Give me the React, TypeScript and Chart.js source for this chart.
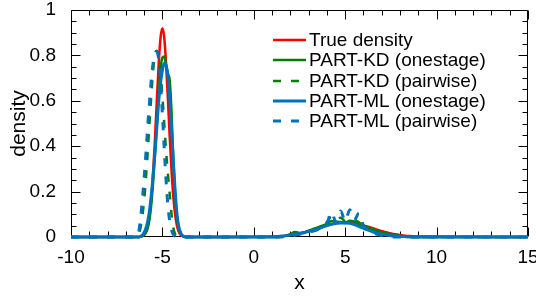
import { useEffect, useRef } from "react";
import { Chart, registerables } from "chart.js";

Chart.register(...registerables);

const FONT = "'Liberation Sans', Arial, sans-serif";

// x samples: narrow mode around -5 and broad mode around 5
const peakX = [-6.4, -6.3, -6.2, -6.1, -6.0, -5.9, -5.8, -5.7, -5.6, -5.5, -5.4, -5.3, -5.2, -5.1, -5.0, -4.9, -4.8, -4.7, -4.6, -4.5, -4.4, -4.3, -4.2, -4.1, -4.0, -3.9, -3.8, -3.7, -3.6];
const bumpX = [1, 1.25, 1.5, 1.75, 2, 2.25, 2.5, 2.75, 3, 3.25, 3.5, 3.75, 4, 4.25, 4.5, 4.75, 5, 5.25, 5.5, 5.75, 6, 6.25, 6.5, 6.75, 7, 7.25, 7.5, 7.75, 8, 8.25, 8.5, 8.75, 9];
const xRange = [-10, 15];

const trueDensityPeak = [0, 0, 0.001, 0.004, 0.009, 0.022, 0.049, 0.097, 0.176, 0.292, 0.442, 0.609, 0.765, 0.879, 0.92, 0.879, 0.765, 0.609, 0.442, 0.292, 0.176, 0.097, 0.049, 0.022, 0.009, 0.004, 0.001, 0, 0];
const trueDensityBump = [0.002, 0.003, 0.004, 0.006, 0.009, 0.012, 0.016, 0.021, 0.026, 0.032, 0.039, 0.045, 0.051, 0.057, 0.061, 0.063, 0.064, 0.063, 0.061, 0.057, 0.051, 0.045, 0.039, 0.032, 0.026, 0.021, 0.016, 0.012, 0.009, 0.006, 0.004, 0.003, 0.002];

const kdOnestagePeak = [0, 0, 0.002, 0.004, 0.01, 0.02, 0.04, 0.08, 0.15, 0.25, 0.37, 0.5, 0.63, 0.74, 0.79, 0.795, 0.76, 0.72, 0.69, 0.55, 0.34, 0.18, 0.08, 0.035, 0.015, 0.006, 0.002, 0, 0];
const kdOnestageBump = [0, 0, 0.002, 0.005, 0.012, 0.022, 0.018, 0.02, 0.028, 0.035, 0.042, 0.05, 0.058, 0.07, 0.068, 0.066, 0.062, 0.072, 0.068, 0.06, 0.05, 0.042, 0.035, 0.028, 0.02, 0.016, 0.012, 0.008, 0.005, 0.003, 0.001, 0, 0];

const kdPairwisePeak = [0, 0.01, 0.04, 0.09, 0.16, 0.26, 0.38, 0.51, 0.63, 0.74, 0.81, 0.82, 0.79, 0.72, 0.62, 0.5, 0.38, 0.28, 0.19, 0.1, 0.04, 0.012, 0.003, 0, 0, 0, 0, 0, 0];
const kdPairwiseBump = [0, 0, 0.001, 0.004, 0.01, 0.02, 0.015, 0.018, 0.025, 0.032, 0.04, 0.05, 0.065, 0.09, 0.075, 0.085, 0.07, 0.08, 0.075, 0.065, 0.05, 0.04, 0.03, 0.022, 0.015, 0.01, 0.006, 0.003, 0.001, 0, 0, 0, 0];

const mlOnestagePeak = [0, 0, 0.003, 0.008, 0.02, 0.04, 0.07, 0.12, 0.19, 0.28, 0.38, 0.49, 0.6, 0.68, 0.735, 0.765, 0.755, 0.71, 0.61, 0.47, 0.33, 0.2, 0.1, 0.045, 0.018, 0.006, 0.002, 0, 0];
const mlOnestageBump = [0, 0.001, 0.003, 0.006, 0.009, 0.012, 0.015, 0.019, 0.024, 0.03, 0.036, 0.043, 0.05, 0.056, 0.06, 0.062, 0.062, 0.06, 0.055, 0.047, 0.038, 0.03, 0.023, 0.017, 0.012, 0.009, 0.006, 0.004, 0.003, 0.002, 0.001, 0, 0];

const mlPairwisePeak = [0, 0.02, 0.08, 0.16, 0.26, 0.37, 0.49, 0.6, 0.7, 0.77, 0.81, 0.815, 0.78, 0.68, 0.54, 0.39, 0.25, 0.14, 0.07, 0.03, 0.01, 0.003, 0, 0, 0, 0, 0, 0, 0];
const mlPairwiseBump = [0, 0, 0, 0.002, 0.005, 0.008, 0.012, 0.016, 0.02, 0.026, 0.033, 0.042, 0.06, 0.11, 0.065, 0.115, 0.07, 0.12, 0.075, 0.105, 0.05, 0.03, 0.02, 0.012, 0.007, 0.004, 0.002, 0, 0, 0, 0, 0, 0];

const seriesNames = ["True density", "PART-KD (onestage)", "PART-KD (pairwise)", "PART-ML (onestage)", "PART-ML (pairwise)"];

const xTicks = [-10, -5, 0, 5, 10, 15];
const yTicks = [0, 0.2, 0.4, 0.6, 0.8, 1];
const xMinorTicks = [-10, -9, -8, -7, -6, -5, -4, -3, -2, -1, 0, 1, 2, 3, 4, 5, 6, 7, 8, 9, 10, 11, 12, 13, 14, 15];
const yMinorTicks = [0, 0.05, 0.1, 0.15, 0.2, 0.25, 0.3, 0.35, 0.4, 0.45, 0.5, 0.55, 0.6, 0.65, 0.7, 0.75, 0.8, 0.85, 0.9, 0.95, 1];

const RED = "#FF0000";
const GREEN = "#008000";
const BLUE = "#0072BD";
const DASH = [8, 10];

function toPoints(peak: number[], bump: number[]) {
  return [
    { x: xRange[0], y: 0 },
    ...peakX.map((x, i) => ({ x, y: peak[i] })),
    ...bumpX.map((x, i) => ({ x, y: bump[i] })),
    { x: xRange[1], y: 0 },
  ];
}

const framePlugin = {
  id: "frame",
  beforeDatasetsDraw(chart: any) {
    const { ctx, chartArea, scales } = chart;
    const { left, right, top, bottom } = chartArea;
    const L = Math.round(left) + 0.5;
    const R = Math.round(right) - 0.5;
    const T = Math.round(top) + 0.5;
    const B = Math.round(bottom) - 0.5;
    ctx.save();
    ctx.strokeStyle = "#000";
    ctx.lineWidth = 1;
    ctx.beginPath();
    ctx.rect(L, T, R - L, B - T);
    for (const v of xMinorTicks) {
      const px = Math.round(scales.x.getPixelForValue(v)) + 0.5;
      const len = xTicks.includes(v) ? 9 : 5;
      ctx.moveTo(px, B);
      ctx.lineTo(px, B - len);
      ctx.moveTo(px, T);
      ctx.lineTo(px, T + len);
    }
    for (const v of yMinorTicks) {
      const py = Math.round(scales.y.getPixelForValue(v)) + 0.5;
      const len = yTicks.some((t) => Math.abs(t - v) < 1e-9) ? 9 : 5;
      ctx.moveTo(L, py);
      ctx.lineTo(L + len, py);
      ctx.moveTo(R, py);
      ctx.lineTo(R - len, py);
    }
    ctx.stroke();
    ctx.restore();
  },
};

const legendPlugin = {
  id: "customLegend",
  afterDraw(chart: any) {
    const { ctx, chartArea } = chart;
    const x0 = chartArea.left + 202;
    const lineLen = 33;
    const y0 = chartArea.top + 30;
    const rowH = 20.3;
    ctx.save();
    ctx.font = `19px ${FONT}`;
    ctx.textBaseline = "middle";
    ctx.textAlign = "left";
    chart.data.datasets.forEach((ds: any, i: number) => {
      const y = Math.round(y0 + i * rowH);
      ctx.beginPath();
      ctx.strokeStyle = ds.borderColor;
      ctx.lineWidth = ds.borderWidth;
      ctx.setLineDash(ds.borderDash || []);
      ctx.moveTo(x0, y);
      ctx.lineTo(x0 + lineLen, y);
      ctx.stroke();
      ctx.setLineDash([]);
      ctx.fillStyle = "#000";
      ctx.fillText(ds.label, x0 + lineLen + 3, y + 1);
    });
    ctx.restore();
  },
};

export default function App() {
  const canvasRef = useRef<HTMLCanvasElement | null>(null);

  useEffect(() => {
    document.body.style.margin = "0";
    const canvas = canvasRef.current;
    if (!canvas) return;
    const common = {
      pointRadius: 0,
      fill: false,
      cubicInterpolationMode: "monotone" as const,
      clip: 5,
    };
    const chart = new Chart(canvas, {
      type: "line",
      data: {
        datasets: [
          { ...common, label: seriesNames[0], data: toPoints(trueDensityPeak, trueDensityBump), borderColor: RED, borderWidth: 2.5, order: 5 },
          { ...common, label: seriesNames[1], data: toPoints(kdOnestagePeak, kdOnestageBump), borderColor: GREEN, borderWidth: 2.5, order: 4 },
          { ...common, label: seriesNames[2], data: toPoints(kdPairwisePeak, kdPairwiseBump), borderColor: GREEN, borderWidth: 2.5, borderDash: DASH, order: 3 },
          { ...common, label: seriesNames[3], data: toPoints(mlOnestagePeak, mlOnestageBump), borderColor: BLUE, borderWidth: 3, order: 2 },
          { ...common, label: seriesNames[4], data: toPoints(mlPairwisePeak, mlPairwiseBump), borderColor: BLUE, borderWidth: 3, borderDash: DASH, order: 1 },
        ],
      },
      options: {
        responsive: false,
        animation: false,
        devicePixelRatio: 1,
        layout: { padding: { top: 10, right: 8, left: 0, bottom: 0 } },
        plugins: { legend: { display: false }, tooltip: { enabled: false } },
        scales: {
          x: {
            type: "linear",
            min: xRange[0],
            max: xRange[1],
            afterBuildTicks: (s: any) => {
              s.ticks = xTicks.map((v) => ({ value: v }));
            },
            afterFit: (s: any) => {
              s.height = 61;
              s.paddingLeft = 0;
              s.paddingRight = 0;
            },
            grid: { display: false },
            border: { display: false },
            ticks: {
              padding: 1,
              color: "#000",
              font: { family: FONT, size: 19 },
              maxRotation: 0,
              autoSkip: false,
              callback: (v: any) => String(v),
            },
            title: {
              display: true,
              text: "x",
              color: "#000",
              font: { family: FONT, size: 21 },
              padding: { top: 0, bottom: 2 },
            },
          },
          y: {
            type: "linear",
            min: 0,
            max: 1,
            afterBuildTicks: (s: any) => {
              s.ticks = yTicks.map((v) => ({ value: v }));
            },
            afterFit: (s: any) => {
              s.width = 71;
              s.paddingTop = 0;
              s.paddingBottom = 0;
            },
            grid: { display: false },
            border: { display: false },
            ticks: {
              padding: 7,
              color: "#000",
              font: { family: FONT, size: 19 },
              autoSkip: false,
              callback: (v: any) => String(v),
            },
            title: {
              display: true,
              text: "density",
              color: "#000",
              font: { family: FONT, size: 21 },
              padding: { top: 7, bottom: 0 },
            },
          },
        },
      },
      plugins: [framePlugin, legendPlugin],
    });
    return () => chart.destroy();
  }, []);

  return <canvas ref={canvasRef} width={536} height={298} style={{ display: "block" }} />;
}
